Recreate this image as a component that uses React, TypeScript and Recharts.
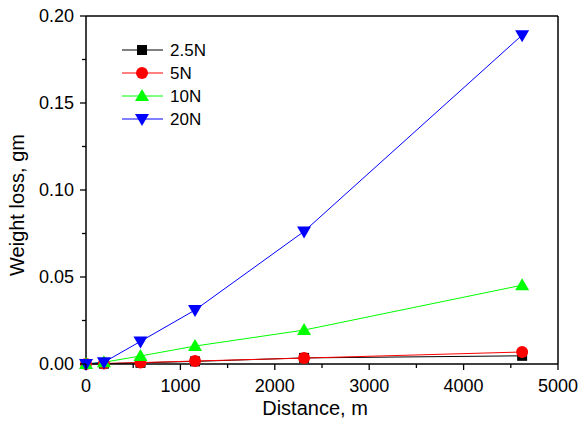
import React from "react";
import { LineChart, Line, XAxis, YAxis, ReferenceLine } from "recharts";

const distance = [0, 190, 577, 1155, 2310, 4620];
const load25 = [0, 0.0002, 0.0007, 0.0015, 0.0035, 0.0047];
const load5 = [0, 0.0003, 0.0008, 0.0017, 0.0034, 0.0069];
const load10 = [0, 0.001, 0.0046, 0.0103, 0.0195, 0.0453];
const load20 = [0, 0.001, 0.013, 0.031, 0.0762, 0.189];

const xTicks = [0, 500, 1000, 1500, 2000, 2500, 3000, 3500, 4000, 4500, 5000];
const yTicks = [0, 0.025, 0.05, 0.075, 0.1, 0.125, 0.15, 0.175, 0.2];

const seriesInfo = [
  { key: "s25", name: "2.5N", color: "#000000", shape: "square" },
  { key: "s5", name: "5N", color: "#ff0000", shape: "circle" },
  { key: "s10", name: "10N", color: "#00ff00", shape: "up" },
  { key: "s20", name: "20N", color: "#0000ff", shape: "down" },
];

const data = distance.map((d, i) => ({
  d,
  s25: load25[i],
  s5: load5[i],
  s10: load10[i],
  s20: load20[i],
}));

const FONT = "Arial, 'Liberation Sans', sans-serif";

function Marker({ cx, cy, shape, color }: any) {
  if (cx == null || cy == null) return null;
  if (shape === "square")
    return <rect x={cx - 5} y={cy - 5} width={10} height={10} fill={color} />;
  if (shape === "circle") return <circle cx={cx} cy={cy} r={6} fill={color} />;
  if (shape === "up")
    return (
      <polygon
        points={`${cx},${cy - 7} ${cx - 7},${cy + 5} ${cx + 7},${cy + 5}`}
        fill={color}
      />
    );
  return (
    <polygon
      points={`${cx},${cy + 7} ${cx - 7},${cy - 5} ${cx + 7},${cy - 5}`}
      fill={color}
    />
  );
}

function XTick({ x, y, payload }: any) {
  const major = payload.value % 1000 === 0;
  return (
    <g>
      <line x1={x} y1={y} x2={x} y2={y + (major ? 6 : 4)} stroke="#000" strokeWidth={1.3} />
      {major && (
        <text x={x} y={y + 28} textAnchor="middle" fontSize={18} fontFamily={FONT} fill="#000">
          {payload.value}
        </text>
      )}
    </g>
  );
}

function YTick({ x, y, payload }: any) {
  const major = Math.round(payload.value * 1000) % 50 === 0;
  return (
    <g>
      <line x1={x} y1={y} x2={x - (major ? 6 : 4)} y2={y} stroke="#000" strokeWidth={1.3} />
      {major && (
        <text x={x - 12} y={y + 6} textAnchor="end" fontSize={18} fontFamily={FONT} fill="#000">
          {payload.value.toFixed(2)}
        </text>
      )}
    </g>
  );
}

function XLabel({ viewBox }: any) {
  const cx = viewBox.x + viewBox.width / 2 - 7;
  return (
    <text x={cx} y={viewBox.y + 51} textAnchor="middle" fontSize={20} fontFamily={FONT} fill="#000">
      Distance, m
    </text>
  );
}

function YLabel({ viewBox }: any) {
  const cy = viewBox.y + viewBox.height / 2 + 15;
  const cx = 24;
  return (
    <text
      x={cx}
      y={cy}
      transform={`rotate(-90 ${cx} ${cy})`}
      textAnchor="middle"
      fontSize={20}
      fontFamily={FONT}
      fill="#000"
    >
      Weight loss, gm
    </text>
  );
}

function LegendBox() {
  return (
    <svg width={100} height={100} style={{ display: "block" }}>
      {seriesInfo.map((s, i) => {
        const y = 10 + i * 23;
        return (
          <g key={s.key}>
            <line x1={2} y1={y} x2={43} y2={y} stroke={s.color} strokeWidth={1} />
            <Marker cx={22} cy={y} shape={s.shape} color={s.color} />
            <text x={50} y={y + 6} fontSize={17} fontFamily={FONT} fill="#000">
              {s.name}
            </text>
          </g>
        );
      })}
    </svg>
  );
}

export default function App() {
  return (
    <div style={{ position: "absolute", left: 0, top: 0, width: 581, height: 432, background: "#fff" }}>
      <LineChart
        width={581}
        height={432}
        data={data}
        margin={{ top: 16, right: 23, left: 0, bottom: 0 }}
      >
        <XAxis
          dataKey="d"
          type="number"
          domain={[0, 5000]}
          ticks={xTicks}
          interval={0}
          height={68}
          tick={<XTick />}
          tickLine={false}
          tickSize={0}
          tickMargin={0}
          axisLine={{ stroke: "#000", strokeWidth: 1.5 }}
          label={<XLabel />}
        />
        <YAxis
          type="number"
          domain={[0, 0.2]}
          ticks={yTicks}
          interval={0}
          width={86}
          tick={<YTick />}
          tickLine={false}
          tickSize={0}
          tickMargin={0}
          axisLine={{ stroke: "#000", strokeWidth: 1.5 }}
          label={<YLabel />}
        />
        <ReferenceLine y={0.2} stroke="#000" strokeWidth={1.5} />
        <ReferenceLine x={5000} stroke="#000" strokeWidth={1.5} />
        {seriesInfo.map((s) => (
          <Line
            key={s.key}
            dataKey={s.key}
            name={s.name}
            type="linear"
            stroke={s.color}
            strokeWidth={1}
            isAnimationActive={false}
            dot={(p: any) => (
              <Marker key={`${s.key}-${p.index}`} cx={p.cx} cy={p.cy} shape={s.shape} color={s.color} />
            )}
          />
        ))}
      </LineChart>
      <div style={{ position: "absolute", left: 120, top: 40 }}>
        <LegendBox />
      </div>
    </div>
  );
}
